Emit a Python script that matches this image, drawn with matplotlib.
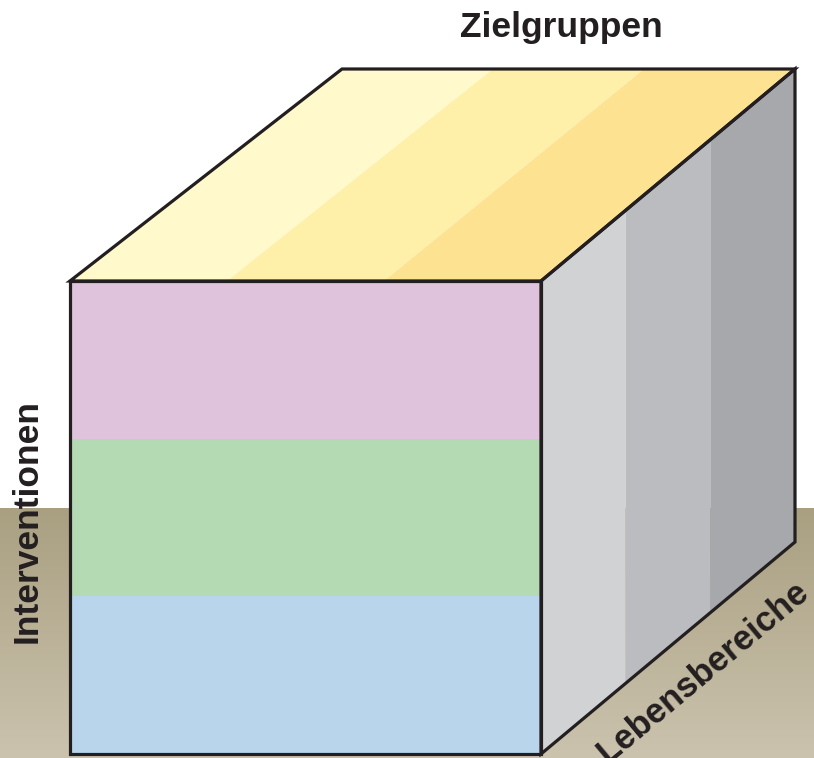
import numpy as np
import matplotlib.pyplot as plt
from matplotlib.patches import Polygon
from matplotlib.colors import LinearSegmentedColormap

plt.rcParams['font.family'] = ['Liberation Sans', 'DejaVu Sans']

# Achsen des Würfels
achse_vorne = "Interventionen"
achse_oben = "Zielgruppen"
achse_seite = "Lebensbereiche"

# Streifen je Fläche (Farben)
interventionen = ['#dfc3dc', '#b4dab4', '#b8d5ec']   # Vorderseite, oben -> unten
zielgruppen = ['#fff9cc', '#fef0a8', '#fde391']      # Oberseite, links -> rechts
lebensbereiche = ['#d1d2d4', '#bbbcc0', '#a7a8ac']  # Seite, vorne -> hinten

# Geometrie (Pixel)
W, H = 814, 758
x0, x1 = 70, 541          # Vorderseite links/rechts
y0, y1 = 281, 754         # Vorderseite oben/unten
dx, dy = 254, -212        # Tiefe
back_left = 342           # hintere linke Ecke oben
boden = 508
kante = '#231f20'

fig = plt.figure(figsize=(W / 100, H / 100), dpi=100)
ax = fig.add_axes([0, 0, 1, 1])
ax.set_xlim(0, W)
ax.set_ylim(H, 0)
ax.axis('off')

# Boden mit Verlauf
cmap = LinearSegmentedColormap.from_list('boden', ['#a99f81', '#cbc3ae'])
grad = np.linspace(0, 1, 256).reshape(-1, 1)
ax.imshow(grad, cmap=cmap, extent=[0, W, H, boden], aspect='auto', zorder=0)

# Vorderseite
n = len(interventionen)
hs = (y1 - y0) / n
for i, c in enumerate(interventionen):
    ax.add_patch(Polygon([(x0, y0 + i * hs), (x1, y0 + i * hs),
                          (x1, y0 + (i + 1) * hs), (x0, y0 + (i + 1) * hs)],
                         closed=True, fc=c, ec='none', zorder=2))

# Oberseite
n = len(zielgruppen)
fv = np.linspace(x0, x1, n + 1)
bv = np.linspace(back_left, x1 + dx, n + 1)
for i, c in enumerate(zielgruppen):
    ax.add_patch(Polygon([(fv[i], y0), (fv[i + 1], y0),
                          (bv[i + 1], y0 + dy), (bv[i], y0 + dy)],
                         closed=True, fc=c, ec='none', zorder=2))

# Seite
n = len(lebensbereiche)
t = np.linspace(0, 1, n + 1)
for i, c in enumerate(lebensbereiche):
    xa, xb = x1 + t[i] * dx, x1 + t[i + 1] * dx
    ax.add_patch(Polygon([(xa, y0 + t[i] * dy), (xb, y0 + t[i + 1] * dy),
                          (xb, y1 + t[i + 1] * dy), (xa, y1 + t[i] * dy)],
                         closed=True, fc=c, ec='none', zorder=2))

# Kanten
lw = 2.3
ax.add_patch(Polygon([(x0, y0), (x1, y0), (x1, y1), (x0, y1)], closed=True,
                     fc='none', ec=kante, lw=lw, zorder=3, joinstyle='miter'))
ax.add_patch(Polygon([(x0, y0), (back_left, y0 + dy), (x1 + dx, y0 + dy), (x1, y0)],
                     closed=True, fc='none', ec=kante, lw=lw, zorder=3, joinstyle='miter'))
ax.add_patch(Polygon([(x1, y0), (x1 + dx, y0 + dy), (x1 + dx, y1 + dy), (x1, y1)],
                     closed=True, fc='none', ec=kante, lw=lw, zorder=3, joinstyle='miter'))

# Beschriftung
ax.text(561, 28, achse_oben, ha='center', va='center', fontsize=25.5,
        fontweight='bold', color=kante, zorder=4)
ax.text(27, 521, achse_vorne, ha='center', va='center', rotation=90, fontsize=25.5,
        fontweight='bold', color=kante, zorder=4)
winkel = np.degrees(np.arctan2(-dy, dx))
ax.text(703, 672, achse_seite, ha='center', va='center', rotation=winkel,
        rotation_mode='anchor', fontsize=25, fontweight='bold', color=kante, zorder=4)

fig.savefig('out.png', dpi=100)
